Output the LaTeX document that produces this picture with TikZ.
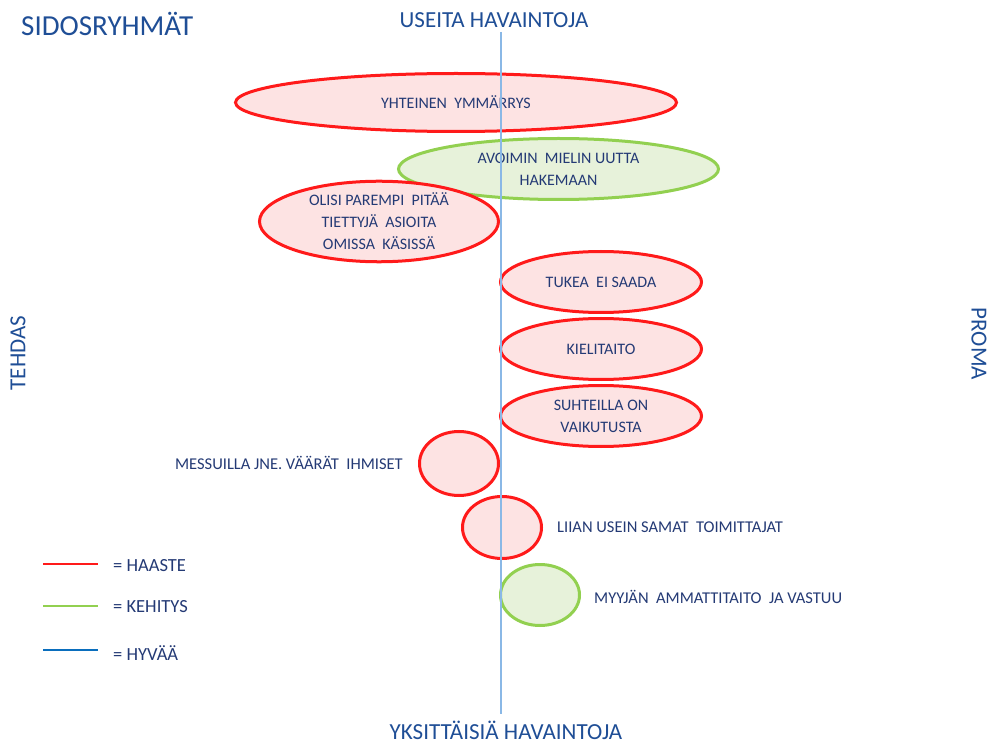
\documentclass[tikz,border=0pt]{standalone}
\usepackage{fontspec}
\setmainfont{Carlito}
\usetikzlibrary{shapes.geometric}
\definecolor{haaste}{HTML}{FF1A1A}
\definecolor{haastefill}{HTML}{FDE3E3}
\definecolor{kehitys}{HTML}{92D050}
\definecolor{kehitysfill}{HTML}{E7F2DA}
\definecolor{hyvaa}{HTML}{0A6EBD}
\definecolor{axisline}{HTML}{8AB8E6}
\definecolor{ink}{HTML}{243A75}
\definecolor{titleblue}{HTML}{1F4E96}
\tikzset{
  bubble/.style={ellipse, inner sep=0pt, line width=3pt, text=ink, align=center,
    font=\fontsize{16}{22}\selectfont},
  challenge/.style={bubble, draw=haaste, fill=haastefill},
  growth/.style={bubble, draw=kehitys, fill=kehitysfill},
  sidelabel/.style={text=ink, font=\fontsize{16.5}{20}\selectfont, inner sep=0pt},
  axislabel/.style={text=titleblue, font=\fontsize{23}{26}\selectfont, inner sep=0pt},
  legendline/.style={line width=2.5pt},
  legendtext/.style={text=ink, font=\fontsize{18.5}{22}\selectfont, inner sep=0pt, anchor=west}
}
\begin{document}
\begin{tikzpicture}[x=1pt, y=-1pt]
  \useasboundingbox[fill=white] (0,0) rectangle (991,743);

  % headings and axis labels
  \node[text=titleblue, font=\fontsize{29}{32}\selectfont, inner sep=0pt, anchor=west] (title) at (21,24) {SIDOSRYHMÄT};
  \node[axislabel] (top) at (494,20) {USEITA HAVAINTOJA};
  \node[axislabel] (bottom) at (506,730) {YKSITTÄISIÄ HAVAINTOJA};
  \node[axislabel, rotate=90] (left) at (18,353) {TEHDAS};
  \node[axislabel, rotate=-90] (right) at (979,344) {PROMA};

  % bubbles
  \node[challenge, minimum width=441pt, minimum height=58pt] (yht) at (456,102.5) {YHTEINEN\ \ YMMÄRRYS};
  \node[growth, minimum width=320pt, minimum height=61pt] (avo) at (558.5,169) {AVOIMIN\ \ MIELIN UUTTA\\HAKEMAAN};
  \node[challenge, minimum width=239pt, minimum height=60pt] (oli) at (379,221.5) {OLISI PAREMPI\ \ PITÄÄ\\TIETTYJÄ\ \ ASIOITA\\OMISSA\ \ KÄSISSÄ};
  \node[challenge, minimum width=201pt, minimum height=61pt] (tuk) at (601,282) {TUKEA\ \ EI SAADA};
  \node[challenge, minimum width=201pt, minimum height=61pt] (kie) at (601,349) {KIELITAITO};
  \node[challenge, minimum width=201pt, minimum height=61pt] (suh) at (601,416) {SUHTEILLA ON\\VAIKUTUSTA};
  \node[challenge, minimum width=79pt, minimum height=64pt] (mes) at (459,463.5) {};
  \node[challenge, minimum width=79pt, minimum height=62pt] (lii) at (502,527.5) {};
  \node[growth, minimum width=79pt, minimum height=61pt] (myy) at (540,595) {};

  % labels beside the small bubbles
  \node[sidelabel, anchor=east] (mesl) at (403,463) {MESSUILLA JNE. VÄÄRÄT\ \ IHMISET};
  \node[sidelabel, anchor=west] (liil) at (557,527) {LIIAN USEIN SAMAT\ \ TOIMITTAJAT};
  \node[sidelabel, anchor=west] (myyl) at (594,597) {MYYJÄN\ \ AMMATTITAITO\ \ JA VASTUU};

  % central axis, drawn over the bubbles
  \coordinate (axtop) at (501,32);
  \coordinate (axbot) at (501,714);
  \draw[axisline, line width=1.3pt] (axtop) -- (axbot);

  % legend
  \coordinate (l1a) at (43,564); \coordinate (l1b) at (98,564);
  \coordinate (l2a) at (43,606); \coordinate (l2b) at (98,606);
  \coordinate (l3a) at (43,650); \coordinate (l3b) at (98,650);
  \draw[legendline, haaste] (l1a) -- (l1b);
  \draw[legendline, kehitys] (l2a) -- (l2b);
  \draw[legendline, hyvaa] (l3a) -- (l3b);
  \node[legendtext] (t1) at (113,566) {= HAASTE};
  \node[legendtext] (t2) at (113,607) {= KEHITYS};
  \node[legendtext] (t3) at (113,653) {= HYVÄÄ};
\end{tikzpicture}
\end{document}
